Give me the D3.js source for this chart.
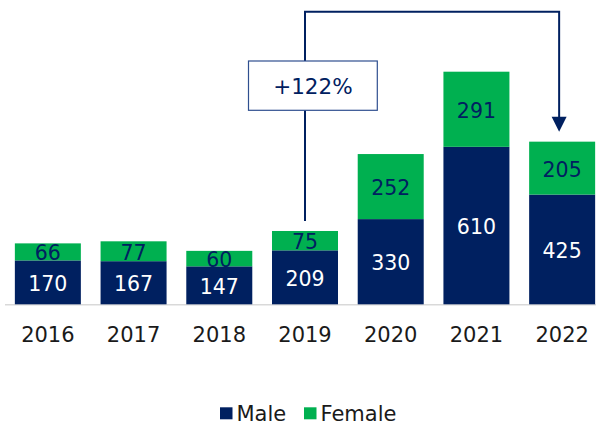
<!DOCTYPE html>
<html>
<head>
<meta charset="utf-8">
<script src="https://cdn.jsdelivr.net/npm/d3@7"></script>
<style>
html,body{margin:0;padding:0;background:#fff;}
svg{display:block;font-family:"DejaVu Sans",Verdana,sans-serif;}
</style>
</head>
<body>
<svg id="chart" width="596" height="424"></svg>
<script>
const years = ["2016","2017","2018","2019","2020","2021","2022"];
const male = [170,167,147,209,330,610,425];
const female = [66,77,60,75,252,291,205];
const seriesNames = ["Male","Female"];
const colors = ["#002060","#00B050"];
const annotationText = "+122%";
const annotationFrom = "2019";
const annotationTo = "2022";

const svg = d3.select("#chart");
const baseY = 304.3;
const x = d3.scaleBand().domain(years).range([5,605]).paddingInner(0.23).paddingOuter(0.115);
const y = d3.scaleLinear().domain([0,901]).range([baseY,71.7]);

const data = years.map((yr,i)=>({year:yr,Male:male[i],Female:female[i]}));
const stack = d3.stack().keys(seriesNames)(data);

// baseline
svg.append("line").attr("x1",5).attr("x2",596).attr("y1",baseY+0.5).attr("y2",baseY+0.5)
  .attr("stroke","#d9d9d9").attr("stroke-width",1.5);

const g = svg.append("g");
stack.forEach((layer,li)=>{
  g.selectAll(null).data(layer).enter().append("rect")
    .attr("x",d=>x(d.data.year))
    .attr("width",x.bandwidth())
    .attr("y",d=>y(d[1]))
    .attr("height",d=>y(d[0])-y(d[1]))
    .attr("fill",colors[li]);
  g.selectAll(null).data(layer).enter().append("text")
    .attr("x",d=>x(d.data.year)+x.bandwidth()/2)
    .attr("y",d=>(y(d[0])+y(d[1]))/2+1.5)
    .attr("text-anchor","middle")
    .attr("dominant-baseline","central")
    .attr("font-size",20.5)
    .attr("fill",li===0?"#ffffff":"#002060")
    .text(d=>d.data[seriesNames[li]]);
});

// x axis labels
const xAxis = d3.axisBottom(x).tickSize(0).tickPadding(0);
const ax = svg.append("g").attr("transform",`translate(0,${baseY})`).call(xAxis);
ax.select(".domain").remove();
ax.selectAll("text").attr("font-size",21).attr("fill","#1a1a1a")
  .attr("font-family","'DejaVu Sans',Verdana,sans-serif")
  .attr("dy",0).attr("y",37.5);

// annotation arrow
const xFrom = x(annotationFrom)+x.bandwidth()/2;
const xTo = x(annotationTo)+x.bandwidth()/2-3;
const fromIdx = years.indexOf(annotationFrom);
const toIdx = years.indexOf(annotationTo);
const yStart = y(male[fromIdx]+female[fromIdx])-10;
const yTop = 11.7;
const tipY = y(male[toIdx]+female[toIdx])-10;
svg.append("path")
  .attr("d",`M${xFrom},${yStart}V${yTop}H${xTo}V${tipY-14}`)
  .attr("fill","none").attr("stroke","#002060").attr("stroke-width",2);
svg.append("path")
  .attr("d",`M${xTo-7.5},${tipY-15}L${xTo+7.5},${tipY-15}L${xTo},${tipY}Z`)
  .attr("fill","#002060");

// box
const bx0=248.5, bx1=377.3, by0=61, by1=110.3;
svg.append("rect").attr("x",bx0).attr("y",by0).attr("width",bx1-bx0).attr("height",by1-by0)
  .attr("fill","#fff").attr("stroke","#2f4f8f").attr("stroke-width",1.2);
svg.append("text").attr("x",(bx0+bx1)/2).attr("y",(by0+by1)/2+1)
  .attr("text-anchor","middle").attr("dominant-baseline","central")
  .attr("font-size",21.5).attr("fill","#002060").text(annotationText);

// legend
const leg = svg.append("g");
const legX = [220,304];
seriesNames.forEach((s,i)=>{
  leg.append("rect").attr("x",legX[i]).attr("y",407.3).attr("width",12.5).attr("height",12).attr("fill",colors[i]);
  leg.append("text").attr("x",legX[i]+16.5).attr("y",413.5).attr("dominant-baseline","central")
    .attr("font-size",21).attr("fill","#1a1a1a").text(s);
});
</script>
</body>
</html>
